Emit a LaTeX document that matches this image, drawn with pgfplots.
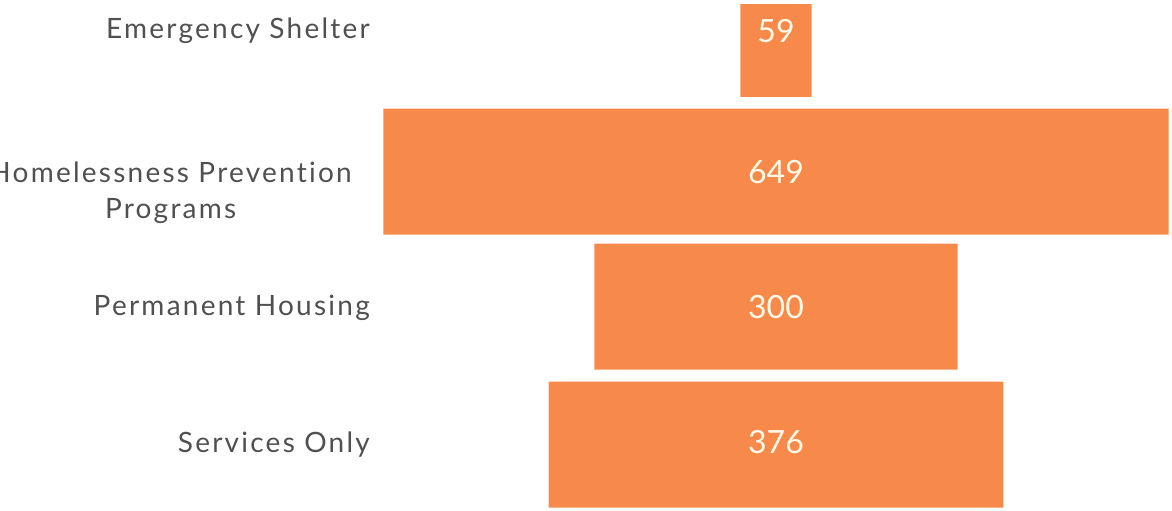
\documentclass[border=0pt]{standalone}
\usepackage{fontspec}
\setmainfont{Lato}
\newfontfamily\labelfont[LetterSpace=8,Ligatures={NoCommon,NoContextual}]{Lato}
\usepackage{pgfplots}
\usepackage{pgfplotstable}
\pgfplotsset{compat=1.18}
\definecolor{barorange}{RGB}{247,138,75}
\definecolor{labelgray}{RGB}{80,80,80}
\definecolor{numcol}{RGB}{255,250,232}
\pgfplotstableread{
y v ny
34 59 43
171.5 649 183
306.5 300 318
444.5 376 453
}\data
\begin{document}
\begin{tikzpicture}
\path[use as bounding box] (0,0) rectangle (1172pt,511pt);
\clip (0,0) rectangle (1172pt,511pt);
\begin{axis}[
  at={(0,0)}, anchor=south west,
  width=1172pt, height=506pt, scale only axis,
  xmin=0, xmax=968.6, ymin=5, ymax=511,
  y dir=reverse,
  xbar stacked, bar width=126pt,
  axis line style={draw=none},
  xtick=\empty,
  ytick={39,182,315,452},
  yticklabels={Emergency Shelter,{\begin{tabular}[t]{@{}c@{}}Homelessness Prevention\\Programs\end{tabular}\kern18pt},Permanent Housing,Services Only},
  major tick length=0pt,
  yticklabel style={font=\labelfont\fontsize{28}{36}\selectfont, text=labelgray, anchor=base east, inner sep=0pt, xshift=370pt},
  clip=true,
]
\addplot[draw=none, fill=none] table[x expr={641.3-0.5*\thisrow{v}}, y=y] \data;
\addplot[draw=none, fill=barorange] table[x=v, y=y] \data;
\end{axis}
\begin{axis}[
  at={(0,0)}, anchor=south west,
  width=1172pt, height=506pt, scale only axis,
  xmin=0, xmax=968.6, ymin=5, ymax=511,
  y dir=reverse, hide axis,
]
\addplot[only marks, mark=none, nodes near coords, point meta=explicit symbolic,
  nodes near coords style={anchor=base, font=\fontsize{32}{38}\selectfont, text=numcol, inner sep=0pt}]
  table[x expr=641.3, y=ny, meta=v] \data;
\end{axis}
\end{tikzpicture}
\end{document}
